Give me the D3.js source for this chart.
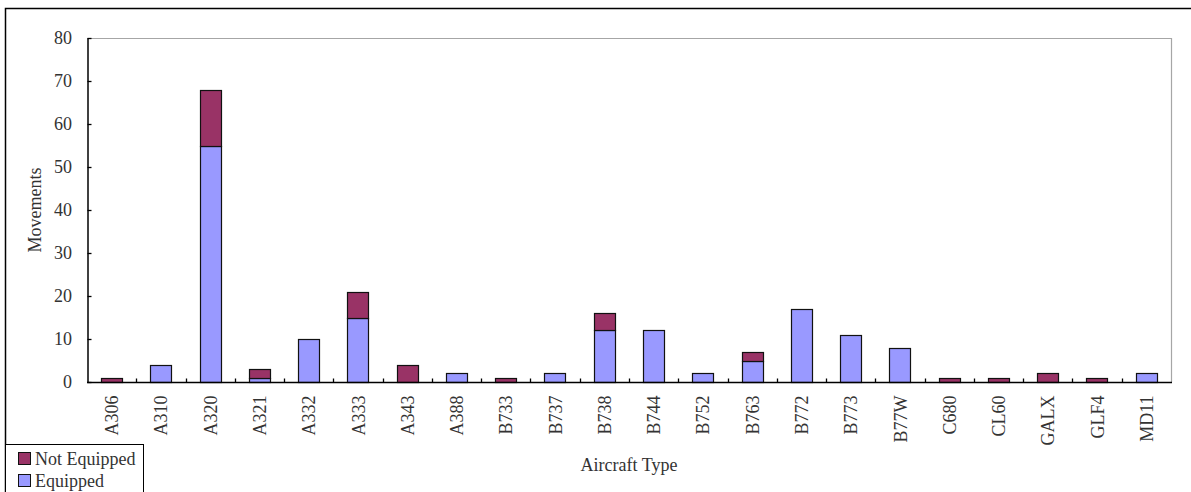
<!DOCTYPE html>
<html>
<head>
<meta charset="utf-8">
<script src="https://cdn.jsdelivr.net/npm/d3@7"></script>
<style>
  html, body { margin: 0; padding: 0; background: #fff; }
  svg { display: block; }
  text { font-family: "Liberation Serif", "DejaVu Serif", serif; fill: #333; }
</style>
</head>
<body>
<svg id="chart" width="1191" height="492"></svg>
<script>
// Aircraft movements by type, split by equipage
const categories = ["A306","A310","A320","A321","A332","A333","A343","A388","B733","B737","B738",
                    "B744","B752","B763","B772","B773","B77W","C680","CL60","GALX","GLF4","MD11"];
const equipped    = [0, 4, 55, 1, 10, 15, 0, 2, 0, 2, 12, 12, 2, 5, 17, 11, 8, 0, 0, 0, 0, 2];
const notEquipped = [1, 0, 13, 2, 0, 6, 4, 0, 1, 0, 4, 0, 0, 2, 0, 0, 0, 1, 1, 2, 1, 0];
const yTicks = [0, 10, 20, 30, 40, 50, 60, 70, 80];
const seriesNames = ["Equipped", "Not Equipped"];
const seriesColors = { "Equipped": "#9999ff", "Not Equipped": "#993366" };

const rows = categories.map((c, i) => ({
  type: c, "Equipped": equipped[i], "Not Equipped": notEquipped[i]
}));

const svg = d3.select("#chart");
const plot = { left: 87, right: 1171, top: 38, bottom: 382 };
const fontSize = 18;

// Outer chart frame
svg.append("path")
  .attr("d", "M5.5,1000 V8.5 H1200")
  .attr("fill", "none").attr("stroke", "#000").attr("stroke-width", 1.5);

const x = d3.scaleBand().domain(categories).range([plot.left, plot.right]).padding(0);
const y = d3.scaleLinear().domain([0, 80]).range([plot.bottom, plot.top]);
const barW = x.step() * 0.43;

// Plot-area border (top and right)
svg.append("path")
  .attr("d", `M${plot.left},${plot.top + 0.5} H${plot.right + 0.5} V${plot.bottom}`)
  .attr("fill", "none").attr("stroke", "#a6a6a6").attr("stroke-width", 1.2);

// Stacked bars
const stacked = d3.stack().keys(seriesNames)(rows);
svg.append("g").selectAll("g")
  .data(stacked).join("g")
  .attr("fill", d => seriesColors[d.key])
  .selectAll("rect")
  .data(d => d.filter(s => s[1] - s[0] > 0))
  .join("rect")
  .attr("x", d => Math.round(x(d.data.type) + (x.step() - barW) / 2) + 0.5)
  .attr("width", Math.round(barW))
  .attr("y", d => Math.round(y(d[1])) + 0.5)
  .attr("height", d => Math.round(y(d[0])) - Math.round(y(d[1])))
  .attr("stroke", "#111").attr("stroke-width", 1.2);

// Y axis with inner ticks
const yAxis = svg.append("g")
  .attr("transform", `translate(${plot.left + 0.5},0)`)
  .call(d3.axisLeft(y).tickValues(yTicks).tickSize(-4).tickPadding(15.5).tickSizeOuter(0));
yAxis.select(".domain").attr("stroke", "#000").attr("stroke-width", 1.5);
yAxis.selectAll(".tick line").attr("stroke", "#000").attr("stroke-width", 1.3);
yAxis.selectAll("text")
  .style("font-family", "'Liberation Serif', serif")
  .style("font-size", fontSize + "px").attr("fill", "#333");

// X axis: inner ticks between categories, rotated labels
const xg = svg.append("g").attr("transform", `translate(0,${plot.bottom + 0.5})`);
xg.append("line")
  .attr("x1", plot.left).attr("x2", plot.right + 1)
  .attr("stroke", "#000").attr("stroke-width", 1.5);
xg.selectAll("line.tick")
  .data(categories.slice(1))
  .join("line").attr("class", "tick")
  .attr("x1", d => Math.round(x(d)) + 0.5).attr("x2", d => Math.round(x(d)) + 0.5)
  .attr("y1", 0).attr("y2", -4)
  .attr("stroke", "#000").attr("stroke-width", 1.3);
xg.selectAll("text")
  .data(categories)
  .join("text")
  .attr("transform", d => `translate(${x(d) + x.bandwidth() / 2 + 6.5},13) rotate(-90)`)
  .attr("text-anchor", "end")
  .style("font-size", fontSize + "px")
  .text(d => d);

// Axis titles
svg.append("text")
  .attr("transform", `translate(41,${(plot.top + plot.bottom) / 2}) rotate(-90)`)
  .attr("text-anchor", "middle")
  .style("font-size", fontSize + "px")
  .text("Movements");
svg.append("text")
  .attr("x", (plot.left + plot.right) / 2).attr("y", 471)
  .attr("text-anchor", "middle")
  .style("font-size", fontSize + "px")
  .text("Aircraft Type");

// Legend
const legend = svg.append("g");
legend.append("rect")
  .attr("x", 5.5).attr("y", 444.5).attr("width", 138).attr("height", 60)
  .attr("fill", "#fff").attr("stroke", "#000").attr("stroke-width", 1);
const legendItems = ["Not Equipped", "Equipped"];
legendItems.forEach((name, i) => {
  const gy = 452 + i * 22;
  legend.append("rect")
    .attr("x", 18.5).attr("y", gy + 0.5).attr("width", 12).attr("height", 12)
    .attr("fill", seriesColors[name]).attr("stroke", "#111").attr("stroke-width", 1);
  legend.append("text")
    .attr("x", 35).attr("y", gy + 13)
    .style("font-size", fontSize + "px")
    .text(name);
});
</script>
</body>
</html>
